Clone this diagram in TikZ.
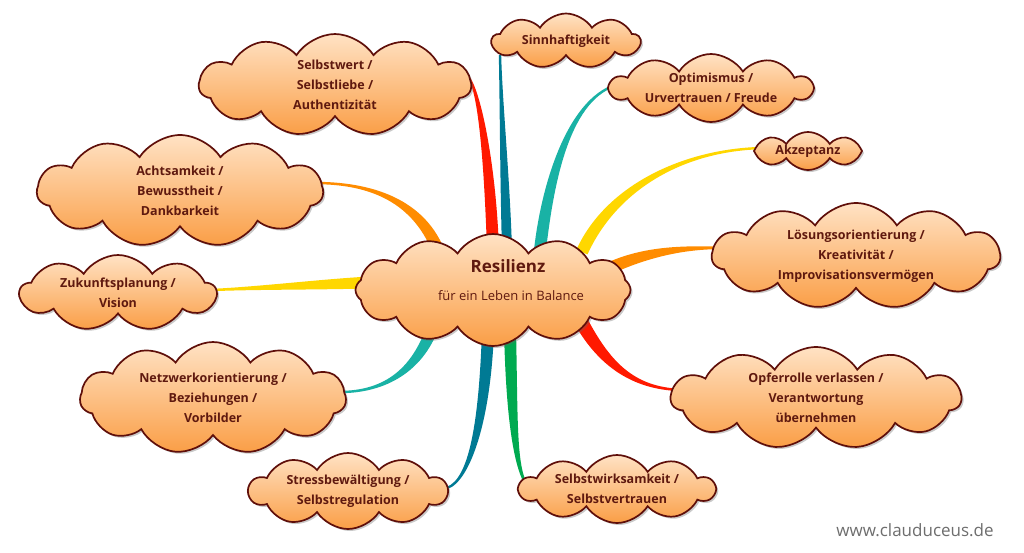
\documentclass[tikz,border=0pt]{standalone}
\usepackage{fontspec}
\setmainfont{Open Sans}
\usetikzlibrary{shapes.symbols,shadows,calc}
\definecolor{txt}{RGB}{95,25,15}
\definecolor{edge}{RGB}{95,15,10}
\definecolor{ctop}{RGB}{255,226,196}
\definecolor{cbot}{RGB}{250,158,70}
\definecolor{cred}{RGB}{255,25,0}
\definecolor{cblue}{RGB}{0,122,148}
\definecolor{cteal}{RGB}{25,178,165}
\definecolor{cyel}{RGB}{255,215,0}
\definecolor{corg}{RGB}{255,140,0}
\definecolor{cgrn}{RGB}{0,170,80}
\definecolor{wm}{RGB}{110,110,110}
\newcommand{\ribbon}[6]{%
  \coordinate (sL) at ($(#2)!#6!90:(#3)$);
  \coordinate (sR) at ($(#2)!#6!-90:(#3)$);
  \coordinate (eL) at ($(#5)!1.2pt!-90:(#4)$);
  \coordinate (eR) at ($(#5)!1.2pt!90:(#4)$);
  \fill[#1] (sL) .. controls ($(#3)+(sL)-(#2)$) and ($(#4)+(eL)-(#5)$) .. (eL)
     -- (eR) .. controls ($(#4)+(eR)-(#5)$) and ($(#3)+(sR)-(#2)$) .. (sR) -- cycle;
}
\tikzset{
  bubble/.style={cloud, cloud puffs=#1, cloud puff arc=115, cloud ignores aspect,
    draw=edge, line width=1.7pt, top color=ctop, bottom color=cbot, inner sep=0pt,
    drop shadow={shadow xshift=2pt,shadow yshift=-2pt,opacity=0.35,fill=black!60}},
  bubble/.default=11,
  lbl/.style={font=\fontsize{12.5}{19.8}\selectfont\bfseries, text=txt, align=center, inner sep=0pt},
}
\begin{document}
\begin{tikzpicture}[x=1pt,y=-1pt]
\useasboundingbox (0,0) rectangle (1024,552);
\fill[white] (0,0) rectangle (1024,552);
% connector end points
\coordinate (s1) at (493,250); \coordinate (e1) at (465,74);
\coordinate (s2) at (507,250); \coordinate (e2) at (500,55);
\coordinate (s3) at (540,250); \coordinate (e3) at (620,84);
\coordinate (s4) at (582,252); \coordinate (e4) at (762,148);
\coordinate (s5) at (610,268); \coordinate (e5) at (728,248);
\coordinate (s6) at (575,310); \coordinate (e6) at (685,390);
\coordinate (s7) at (510,330); \coordinate (e7) at (528,487);
\coordinate (s8) at (488,330); \coordinate (e8) at (447,488);
\coordinate (s9) at (435,320); \coordinate (e9) at (340,392);
\coordinate (s10) at (380,282); \coordinate (e10) at (212,290);
\coordinate (s11) at (440,255); \coordinate (e11) at (315,183);
% connectors
\ribbon{cred}{s1}{490,160}{478,78}{e1}{6pt}
\ribbon{cblue}{s2}{505,180}{501,100}{e2}{5pt}
\ribbon{cteal}{s3}{548,180}{570,95}{e3}{6pt}
\ribbon{cyel}{s4}{610,190}{680,150}{e4}{6pt}
\ribbon{corg}{s5}{650,250}{690,247}{e5}{6pt}
\ribbon{cred}{s6}{600,360}{630,390}{e6}{7pt}
\ribbon{cgrn}{s7}{512,420}{515,470}{e7}{6pt}
\ribbon{cblue}{s8}{485,420}{470,480}{e8}{6pt}
\ribbon{cteal}{s9}{420,370}{385,392}{e9}{6pt}
\ribbon{cyel}{s10}{330,284}{260,288}{e10}{6pt}
\ribbon{corg}{s11}{420,200}{370,183}{e11}{6pt}
% clouds
\node[bubble=12, minimum width=275, minimum height=112] (R) at (493,290) {};
\node[bubble=11, minimum width=272, minimum height=102] (n1) at (335,85) {};
\node[bubble=9, minimum width=148, minimum height=55] (n2) at (566,41) {};
\node[bubble=10, minimum width=202, minimum height=68] (n3) at (711,88) {};
\node[bubble=8, minimum width=108, minimum height=38] (n4) at (808,151) {};
\node[bubble=11, minimum width=288, minimum height=106] (n5) at (856,256) {};
\node[bubble=11, minimum width=290, minimum height=102] (n6) at (816,398) {};
\node[bubble=10, minimum width=195, minimum height=68] (n7) at (617,489) {};
\node[bubble=10, minimum width=198, minimum height=76] (n8) at (348,491) {};
\node[bubble=11, minimum width=266, minimum height=112] (n9) at (213,398) {};
\node[bubble=9, minimum width=196, minimum height=76] (n10) at (118,293) {};
\node[bubble=11, minimum width=286, minimum height=112] (n11) at (180,191) {};
% texts
\node[font=\fontsize{17}{20}\selectfont\bfseries, text=txt] (tR1) at (508,266) {Resilienz};
\node[font=\fontsize{13}{16}\selectfont, text=txt] (tR2) at (511,296) {für ein Leben in Balance};
\node[lbl] (t1) at (n1) {Selbstwert /\\Selbstliebe /\\Authentizität};
\node[lbl] (t2) at (n2) {Sinnhaftigkeit};
\node[lbl] (t3) at (n3) {Optimismus /\\Urvertrauen / Freude};
\node[lbl] (t4) at (n4) {Akzeptanz};
\node[lbl] (t5) at (n5) {Lösungsorientierung /\\Kreativität /\\Improvisationsvermögen};
\node[lbl] (t6) at (n6) {Opferrolle verlassen /\\Verantwortung\\übernehmen};
\node[lbl] (t7) at (n7) {Selbstwirksamkeit /\\Selbstvertrauen};
\node[lbl] (t8) at (n8) {Stressbewältigung /\\Selbstregulation};
\node[lbl] (t9) at (n9) {Netzwerkorientierung /\\Beziehungen /\\Vorbilder};
\node[lbl] (t10) at (n10) {Zukunftsplanung /\\Vision};
\node[lbl] (t11) at (n11) {Achtsamkeit /\\Bewusstheit /\\Dankbarkeit};
\node[font=\fontsize{17}{20}\selectfont, text=wm] (wm) at (915,530) {www.clauduceus.de};
\end{tikzpicture}
\end{document}
